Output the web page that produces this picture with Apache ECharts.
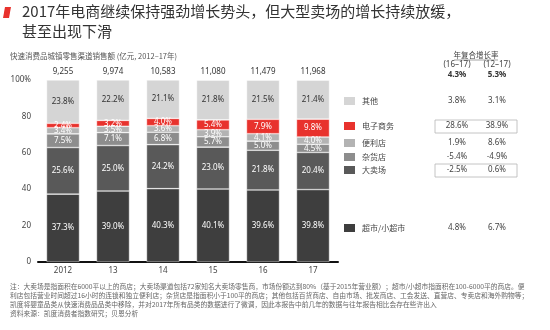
<!DOCTYPE html>
<html>
<head>
<meta charset="utf-8">
<script src="https://cdn.jsdelivr.net/npm/echarts@6/dist/echarts.min.js"></script>
<style>
  html, body { margin: 0; padding: 0; background: #fff; }
  #main { width: 550px; height: 330px; }
</style>
</head>
<body>
<div id="main"></div>
<script>
// 年份和总额
var years = ['2012', '13', '14', '15', '16', '17'];
var totals = ['9,255', '9,974', '10,583', '11,080', '11,479', '11,968'];
// 各渠道份额 (%)
var chaoshi = [37.3, 39.0, 40.3, 40.1, 39.6, 39.8];
var maichang = [25.6, 25.0, 24.2, 23.0, 21.8, 20.4];
var zahuo = [7.5, 7.1, 6.8, 5.7, 5.0, 4.5];
var bianli = [3.4, 3.5, 3.6, 3.9, 4.1, 4.0];
var dianshang = [2.4, 3.2, 4.0, 5.4, 7.9, 9.8];
var qita = [23.8, 22.2, 21.1, 21.8, 21.5, 21.4];
// 图例（从上到下）和年复合增长率
var legendNames = ['其他', '电子商务', '便利店', '杂货店', '大卖场', '超市/小超市'];
var cagr1617 = ['3.8%', '28.6%', '1.9%', '-5.4%', '-2.5%', '4.8%'];
var cagr1217 = ['3.1%', '38.9%', '8.6%', '-4.9%', '0.6%', '6.7%'];
var cagrTotal = ['4.3%', '5.3%'];

var colors = {
    '超市/小超市': '#3e3e3e',
    '大卖场': '#595959',
    '杂货店': '#8d8d8d',
    '便利店': '#b3b3b3',
    '电子商务': '#e8322d',
    '其他': '#d5d5d5'
};
var numFont = "'Noto Sans', 'Noto Sans CJK SC', sans-serif";
var cnFont = "'Noto Sans CJK SC', sans-serif";

function barSeries(name, data, labelColor) {
    return {
        name: name,
        type: 'bar',
        stack: 'all',
        barWidth: 33,
        data: data,
        itemStyle: { color: colors[name], borderColor: 'rgba(255,255,255,0.7)', borderWidth: 0.6 },
        label: {
            show: true,
            position: 'inside',
            color: labelColor,
            fontSize: 8,
            fontFamily: numFont,
            formatter: function (p) { return p.value.toFixed(1) + '%'; }
        }
    };
}

var myChart = echarts.init(document.getElementById('main'));

// 右侧图例和增长率
var rowY = [101, 126, 143, 157, 170, 228];
var graphics = [
    { type: 'polygon', shape: { points: [[5, 7], [11, 7], [9, 18], [3, 18]] }, style: { fill: '#e8322d' } },
    { type: 'text', left: 22, top: 4, style: { text: '2017年电商继续保持强劲增长势头，但大型卖场的增长持续放缓，', fontSize: 15, fontFamily: cnFont, fill: '#333' } },
    { type: 'text', left: 22, top: 24, style: { text: '甚至出现下滑', fontSize: 15, fontFamily: cnFont, fill: '#333' } },
    { type: 'text', left: 10, top: 52, style: { text: '快速消费品城镇零售渠道销售额 (亿元, 2012–17年)', fontSize: 7.5, fontFamily: cnFont, fill: '#555' } },
    { type: 'text', x: 476, y: 55, style: { text: '年复合增长率', fontSize: 7.5, fontFamily: cnFont, fill: '#444', align: 'center', verticalAlign: 'middle' } },
    { type: 'line', shape: { x1: 454, y1: 60, x2: 498, y2: 60 }, style: { stroke: '#666', lineWidth: 0.6 } },
    { type: 'text', x: 457, y: 65, style: { text: '(16–17)', fontSize: 8, fontFamily: numFont, fill: '#444', align: 'center', verticalAlign: 'middle' } },
    { type: 'text', x: 497, y: 65, style: { text: '(12–17)', fontSize: 8, fontFamily: numFont, fill: '#444', align: 'center', verticalAlign: 'middle' } },
    { type: 'text', x: 457, y: 75, style: { text: cagrTotal[0], fontSize: 8, fontWeight: 'bold', fontFamily: numFont, fill: '#333', align: 'center', verticalAlign: 'middle' } },
    { type: 'text', x: 497, y: 75, style: { text: cagrTotal[1], fontSize: 8, fontWeight: 'bold', fontFamily: numFont, fill: '#333', align: 'center', verticalAlign: 'middle' } },
    { type: 'rect', shape: { x: 435, y: 120, width: 82, height: 13 }, style: { fill: 'none', stroke: '#b5b5b5', lineWidth: 0.8 } },
    { type: 'rect', shape: { x: 435, y: 164, width: 82, height: 13 }, style: { fill: 'none', stroke: '#b5b5b5', lineWidth: 0.8 } }
];
legendNames.forEach(function (name, i) {
    var y = rowY[i];
    graphics.push({ type: 'rect', shape: { x: 344, y: y - 4, width: 11, height: 8 }, style: { fill: colors[name] } });
    graphics.push({ type: 'text', x: 362, y: y, style: { text: name, fontSize: 8, fontFamily: cnFont, fill: '#444', verticalAlign: 'middle' } });
    graphics.push({ type: 'text', x: 457, y: y, style: { text: cagr1617[i], fontSize: 8, fontFamily: numFont, fill: '#444', align: 'center', verticalAlign: 'middle' } });
    graphics.push({ type: 'text', x: 497, y: y, style: { text: cagr1217[i], fontSize: 8, fontFamily: numFont, fill: '#444', align: 'center', verticalAlign: 'middle' } });
});
// 注释
var notes = [
    '注：大卖场是指面积在6000平以上的商店；大卖场渠道包括72家知名大卖场零售商，市场份额达到80%（基于2015年营业额）；超市/小超市指面积在100-6000平的商店。便',
    '利店包括营业时间超过16小时的连锁和独立便利店；杂货店是指面积小于100平的商店；其他包括百货商店、自由市场、批发商店、工会发送、直营店、专卖店和海外购物等；',
    '凯度将婴童品类从快速消费品品类中移除，并对2017年所有品类的数据进行了微调，因此本报告中前几年的数据与往年报告相比会存在些许出入',
    '资料来源：凯度消费者指数研究；贝恩分析'
];
notes.forEach(function (t, i) {
    graphics.push({ type: 'text', left: 10, top: 283 + i * 9, style: { text: t, fontSize: 6.75, fontFamily: cnFont, fill: '#666' } });
});

var option = {
    animation: false,
    grid: { left: 38, right: 212, top: 80, bottom: 68 },
    xAxis: [
        {
            type: 'category',
            data: years,
            position: 'bottom',
            axisLine: { lineStyle: { color: '#111', width: 2 } },
            axisTick: { show: false },
            axisLabel: { color: '#444', fontSize: 8, fontFamily: numFont, margin: 5 }
        },
        {
            type: 'category',
            data: totals,
            position: 'top',
            axisLine: { show: false },
            axisTick: { show: false },
            axisLabel: { color: '#333', fontSize: 8, fontFamily: numFont, margin: 4 }
        }
    ],
    yAxis: {
        type: 'value',
        min: 0,
        max: 100,
        interval: 20,
        axisLine: { show: false },
        axisTick: { show: false },
        splitLine: { show: false },
        axisLabel: {
            color: '#444',
            fontSize: 8,
            fontFamily: numFont,
            margin: 7,
            formatter: function (v) { return v === 100 ? '100%' : v; }
        }
    },
    series: [
        barSeries('超市/小超市', chaoshi, '#fff'),
        barSeries('大卖场', maichang, '#fff'),
        barSeries('杂货店', zahuo, '#fff'),
        barSeries('便利店', bianli, '#fff'),
        barSeries('电子商务', dianshang, '#fff'),
        barSeries('其他', qita, '#333')
    ],
    graphic: graphics
};
myChart.setOption(option);
</script>
</body>
</html>
